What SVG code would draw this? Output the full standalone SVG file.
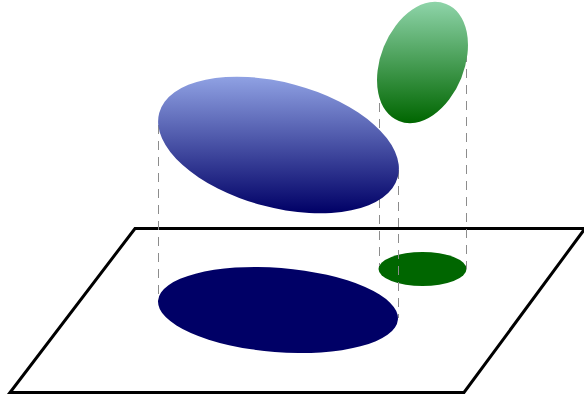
<svg xmlns="http://www.w3.org/2000/svg" width="584" height="398" viewBox="0 0 584 398">
<style>
.plane{fill:#fff;stroke:#000;stroke-width:3;stroke-linejoin:miter}
.proj-blue{fill:#000066}
.proj-green{fill:#006600}
.dash{stroke:#8c8c8c;stroke-width:1;stroke-dasharray:9 7;fill:none}
</style>
<defs>
<linearGradient id="gBlue" gradientUnits="userSpaceOnUse" x1="0" y1="77" x2="0" y2="213">
<stop offset="0" stop-color="#8fa1e3"/>
<stop offset="1" stop-color="#000066"/>
</linearGradient>
<linearGradient id="gGreen" gradientUnits="userSpaceOnUse" x1="0" y1="2" x2="0" y2="123">
<stop offset="0" stop-color="#8ed4a9"/>
<stop offset="1" stop-color="#006600"/>
</linearGradient>
</defs>
<rect width="584" height="398" fill="#fff"/>
<g id="plane">
<path class="plane" d="M135 228.5 L585 228.5 L464 392.5 L10 392.5 Z"/>
</g>
<g id="blue-projection">
<ellipse class="proj-blue" cx="278" cy="310" rx="120.3" ry="42.1" transform="rotate(4.5 278 310)"/>
</g>
<g id="green-projection">
<ellipse class="proj-green" cx="422.5" cy="269" rx="44" ry="17"/>
</g>
<g id="connectors">
<line class="dash" x1="158.5" y1="125" x2="158.5" y2="300"/>
<line class="dash" x1="379.5" y1="87" x2="379.5" y2="266"/>
<line class="dash" x1="398.5" y1="170" x2="398.5" y2="318"/>
<line class="dash" x1="466.5" y1="37" x2="466.5" y2="269"/>
</g>
<g id="blue-shape">
<path fill="url(#gBlue)" d="M159.2 113 A123.5 62.5 15 1 0 397.8 177 A123.5 62.5 15 1 0 159.2 113 Z"/>
</g>
<g id="green-shape">
<path fill="url(#gGreen)" d="M446.1 4.1 A63 41 -68 1 0 398.9 120.9 A63 41 -68 1 0 446.1 4.1 Z"/>
</g>
</svg>
